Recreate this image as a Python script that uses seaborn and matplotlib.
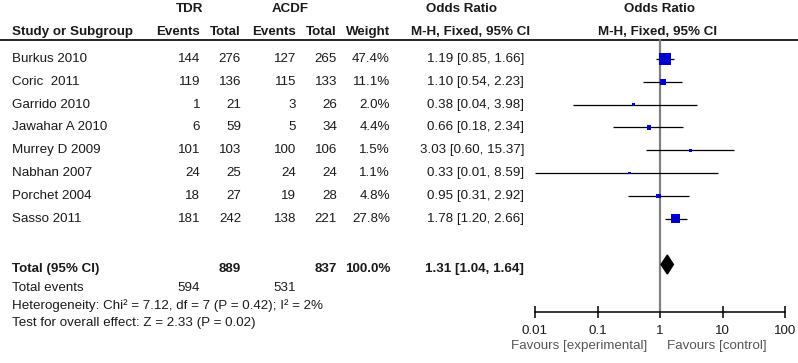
import numpy as np
import pandas as pd
import matplotlib
matplotlib.use("Agg")
import matplotlib.pyplot as plt
import seaborn as sns

sns.set_style("white")
plt.rcParams["font.family"] = ["Liberation Sans", "DejaVu Sans"]

studies = ["Burkus 2010", "Coric  2011", "Garrido 2010", "Jawahar A 2010",
           "Murrey D 2009", "Nabhan 2007", "Porchet 2004", "Sasso 2011"]
tdr_events = [144, 119, 1, 6, 101, 24, 18, 181]
tdr_total = [276, 136, 21, 59, 103, 25, 27, 242]
acdf_events = [127, 115, 3, 5, 100, 24, 19, 138]
acdf_total = [265, 133, 26, 34, 106, 24, 28, 221]
weights = [47.4, 11.1, 2.0, 4.4, 1.5, 1.1, 4.8, 27.8]
odds = [1.19, 1.10, 0.38, 0.66, 3.03, 0.33, 0.95, 1.78]
ci_lo = [0.85, 0.54, 0.04, 0.18, 0.60, 0.01, 0.31, 1.20]
ci_hi = [1.66, 2.23, 3.98, 2.34, 15.37, 8.59, 2.92, 2.66]
total_or, total_lo, total_hi = 1.31, 1.04, 1.64
tick_vals = [0.01, 0.1, 1, 10, 100]
tick_labels = ["0.01", "0.1", "1", "10", "100"]

# layout in pixels
W, H = 798, 363
row_y = [59 + 22.8 * i for i in range(len(studies))]
y_total, y_events, y_het, y_test = 269, 288, 306, 323
y_axis = 312
fs = 9.6
col = "#1a1a1a"

fig = plt.figure(figsize=(W / 100, H / 100), dpi=100)
ax0 = fig.add_axes([0, 0, 1, 1])
ax0.set_xlim(0, W)
ax0.set_ylim(H, 0)
ax0.axis("off")


def txt(x, y, s, ha="left", bold=False, color=col):
    ax0.text(x, y, s, ha=ha, va="center", fontsize=fs,
             fontweight="bold" if bold else "normal", color=color)


# headers
txt(190, 9, "TDR", "center", True)
txt(290, 9, "ACDF", "center", True)
txt(461, 9, "Odds Ratio", "center", True)
txt(659, 9, "Odds Ratio", "center", True)
txt(12, 32, "Study or Subgroup", bold=True)
txt(200, 32, "Events", "right", True)
txt(241, 32, "Total", "right", True)
txt(296, 32, "Events", "right", True)
txt(337, 32, "Total", "right", True)
txt(390, 32, "Weight", "right", True)
txt(471, 32, "M-H, Fixed, 95% CI", "center", True)
txt(658, 32, "M-H, Fixed, 95% CI", "center", True)
ax0.plot([0, W], [39.5, 39.5], color="black", lw=1.2)

df = pd.DataFrame(dict(study=studies, y=row_y, OR=odds, lo=ci_lo, hi=ci_hi, w=weights))
for i, r in enumerate(studies):
    y = row_y[i]
    txt(12, y, r)
    txt(200, y, str(tdr_events[i]), "right")
    txt(241, y, str(tdr_total[i]), "right")
    txt(296, y, str(acdf_events[i]), "right")
    txt(337, y, str(acdf_total[i]), "right")
    txt(390, y, f"{weights[i]:.1f}%", "right")
    txt(524, y, f"{odds[i]:.2f} [{ci_lo[i]:.2f}, {ci_hi[i]:.2f}]", "right")

txt(12, y_total, "Total (95% CI)", bold=True)
txt(241, y_total, str(sum(tdr_total)), "right", True)
txt(337, y_total, str(sum(acdf_total)), "right", True)
txt(390, y_total, "100.0%", "right", True)
txt(524, y_total, f"{total_or:.2f} [{total_lo:.2f}, {total_hi:.2f}]", "right", True)
txt(12, y_events, "Total events")
txt(200, y_events, str(sum(tdr_events)), "right")
txt(296, y_events, str(sum(acdf_events)), "right")
txt(12, y_het, "Heterogeneity: Chi² = 7.12, df = 7 (P = 0.42); I² = 2%")
txt(12, y_test, "Test for overall effect: Z = 2.33 (P = 0.02)")

# forest panel
ax = fig.add_axes([535 / W, 0, 250 / W, 1])
ax.set_xscale("log")
ax.set_xlim(0.01, 100)
ax.set_ylim(H, 0)
ax.patch.set_alpha(0)
for s in ["top", "left", "right"]:
    ax.spines[s].set_visible(False)
ax.spines["bottom"].set_position(("data", y_axis))
ax.spines["bottom"].set_color("black")
ax.spines["bottom"].set_linewidth(1.1)
ax.set_yticks([])
ax.set_xticks(tick_vals)
ax.set_xticklabels(tick_labels)
ax.xaxis.set_minor_locator(matplotlib.ticker.NullLocator())
ax.tick_params(axis="x", direction="inout", length=8, width=1.1, pad=5,
               labelsize=fs, colors="black", labelcolor=col, bottom=True)

ax.plot([1, 1], [39.5, y_axis], color="#808080", lw=1.6, zorder=1)
ax.hlines(df["y"], df["lo"], df["hi"], color="black", lw=0.9, zorder=2)
sns.scatterplot(data=df, x="OR", y="y", size="w", sizes=(4.5, 74),
                marker="s", color="#0000cc", edgecolor="none",
                legend=False, ax=ax, zorder=3)
ax.set_xlabel("")
ax.set_ylabel("")
yd = y_total - 4.5
ax.fill([total_lo, total_or, total_hi, total_or],
        [yd, yd - 9.5, yd, yd + 9.5], color="black", zorder=3)

txt(647, 346, "Favours [experimental]", "right", color="#555555")
txt(667, 346, "Favours [control]", color="#555555")

fig.savefig("out.png", dpi=100)
